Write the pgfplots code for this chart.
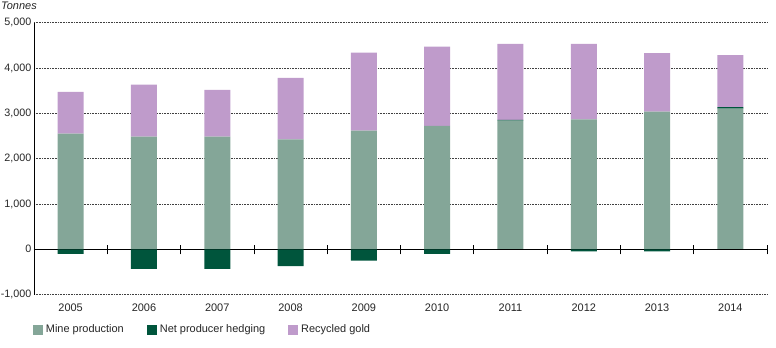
\documentclass[border=0pt]{standalone}
\usepackage{fontspec}
\setmainfont{Liberation Sans}
\usepackage{pgfplots}
\pgfplotsset{compat=1.18}
\definecolor{mine}{RGB}{132,166,152}
\definecolor{hedge}{RGB}{0,85,60}
\definecolor{recyc}{RGB}{191,155,203}
\pgfplotsset{base/.style={scale only axis, width=733bp, height=271.9bp,
  xmin=-0.5, xmax=9.5, ymin=-1000, ymax=5000, bar width=26bp, at={(0,0)}, anchor=south west}}
\begin{document}
\begin{tikzpicture}
\begin{axis}[base, ybar stacked, clip=false,
  axis lines*=left,
  x axis line style={draw=none},
  y axis line style={-, black, line width=0.8pt},
  ytick={-1000,0,1000,2000,3000,4000,5000},
  xtick={0,1,2,3,4,5,6,7,8,9},
  xticklabels={2005,2006,2007,2008,2009,2010,2011,2012,2013,2014},
  major tick length=0pt,
  ymajorgrids,
  major grid style={black!75, line width=0.6pt, dash pattern=on 0.8bp off 0.8bp},
  /pgf/number format/assume math mode=true,
  /pgf/number format/1000 sep={,},
  tick label style={font=\fontsize{11}{13}\selectfont, text=black!85},
  yticklabel style={font=\fontsize{10.8}{13}\selectfont, inner sep=2.5bp},
  xticklabel style={yshift=-6bp},
  legend columns=-1,
  legend style={at={(0,0)}, anchor=north west, xshift=-1.3bp, yshift=-28bp,
    draw=none, inner sep=0pt, font=\fontsize{11}{13}\selectfont, text=black!85,
    /tikz/every even column/.append style={column sep=21bp},
    /tikz/every odd column/.append style={column sep=1bp}},
  legend image code/.code={\fill[#1] (0bp,-5bp) rectangle (10bp,5bp);},
]
\addplot[fill=mine, draw=none] coordinates {(0,2550) (1,2486) (2,2486) (3,2428) (4,2618) (5,2722) (6,2840) (7,2868) (8,3038) (9,3105)};
\addlegendentry{Mine production}
\addplot[fill=hedge, draw=none] coordinates {(0,0) (1,0) (2,0) (3,0) (4,0) (5,0) (6,15) (7,0) (8,0) (9,30)};
\addlegendentry{Net producer hedging}
\addplot[fill=recyc, draw=none] coordinates {(0,922) (1,1148) (2,1031) (3,1353) (4,1722) (5,1750) (6,1677) (7,1664) (8,1289) (9,1148)};
\addlegendentry{Recycled gold}
\node[anchor=mid west, font=\fontsize{11}{13}\selectfont\itshape, text=black!85, inner sep=0pt] at (axis description cs:0,1) [xshift=-33bp, yshift=15.5bp] {Tonnes};
\end{axis}
\begin{axis}[base, ybar stacked, hide axis, clip=false]
\addplot[fill=hedge, draw=none] coordinates {(0,-104) (1,-435) (2,-435) (3,-369) (4,-252) (5,-104) (6,0) (7,-44) (8,-44) (9,0)};
\draw[black, line width=0.8pt] (axis cs:-0.5,0) -- (axis cs:9.5,0);
\pgfplotsinvokeforeach{0.5,1.5,2.5,3.5,4.5,5.5,6.5,7.5,8.5,9.5}{
  \draw[black, line width=0.8pt] ([yshift=-5bp]axis cs:#1,0) -- ([yshift=4.5bp]axis cs:#1,0);
}
\end{axis}
\pgfresetboundingbox
\path[use as bounding box] (-34bp,-53.4bp) rectangle (742bp,294.6bp);
\end{tikzpicture}
\end{document}
